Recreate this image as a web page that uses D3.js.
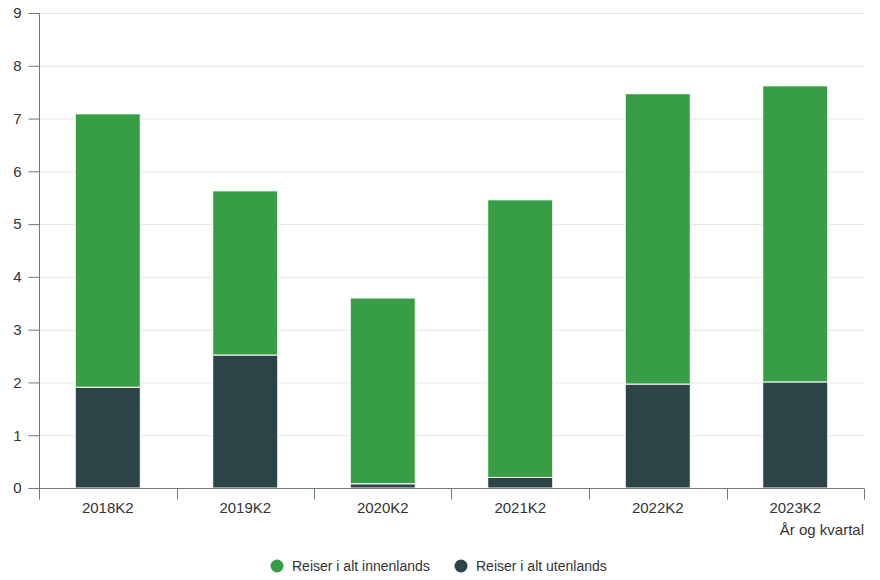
<!DOCTYPE html>
<html><head><meta charset="utf-8">
<script src="https://cdn.jsdelivr.net/npm/d3@7"></script>
<style>body{margin:0;background:#fff;font-family:"Liberation Sans",Arial,sans-serif;}</style>
</head><body>
<svg id="c" width="880" height="580"></svg>
<script>
const categories = ["2018K2","2019K2","2020K2","2021K2","2022K2","2023K2"];
const utenlands = [1.91, 2.52, 0.08, 0.20, 1.97, 2.01];
const innenlands = [5.18, 3.11, 3.52, 5.26, 5.50, 5.61];
const yTicks = [0,1,2,3,4,5,6,7,8,9];
const seriesNames = ["Reiser i alt innenlands","Reiser i alt utenlands"];
const colors = {inn:"#389e45", ut:"#2c4348"};

const svg = d3.select("#c");
const L=39, R=864, T=13, B=488;
const x = d3.scaleBand().domain(categories).range([L,R]).paddingInner(0.527).paddingOuter(0.2635);
const y = d3.scaleLinear().domain([0,9]).range([B,T]);

// gridlines
svg.append("g").selectAll("line").data(yTicks).join("line")
  .attr("x1",L).attr("x2",R).attr("y1",d=>y(d)+0.5).attr("y2",d=>y(d)+0.5)
  .attr("stroke","#e6e6e6").attr("stroke-width",1);

const data = categories.map((c,i)=>({c, ut:utenlands[i], inn:innenlands[i]}));
const stack = d3.stack().keys(["ut","inn"])(data);
svg.append("g").selectAll("g").data(stack).join("g")
  .attr("fill",d=>colors[d.key])
  .selectAll("rect").data(d=>d).join("rect")
  .attr("x",d=>x(d.data.c)).attr("width",x.bandwidth())
  .attr("y",d=>y(d[1])).attr("height",d=>y(d[0])-y(d[1]))
  .attr("stroke","#ffffff").attr("stroke-width",1);

// y axis
const ya = svg.append("g").attr("transform",`translate(${L+0.5},0)`)
  .call(d3.axisLeft(y).tickValues(yTicks).tickSize(11).tickPadding(7).tickFormat(d3.format("d")));
ya.select(".domain").attr("stroke","#6e7b7b").attr("d",`M0,${T}V${B}`);
ya.selectAll(".tick line").attr("stroke","#6e7b7b");
ya.selectAll("text").attr("fill","#333").style("font-size","15px").style("font-family","Liberation Sans, Arial, sans-serif");

// x axis
const xa = svg.append("g").attr("transform",`translate(0,${B+0.5})`);
xa.append("line").attr("x1",L).attr("x2",R).attr("stroke","#6e7b7b");
const bounds = [L].concat(categories.map(c=>x(c)+x.bandwidth()+x.step()*x.paddingInner()/2));
bounds[bounds.length-1]=R;
xa.selectAll("line.t").data(bounds).join("line").attr("class","t")
  .attr("x1",d=>Math.round(d)+0.5).attr("x2",d=>Math.round(d)+0.5).attr("y1",0).attr("y2",11)
  .attr("stroke","#6e7b7b");
xa.selectAll("text").data(categories).join("text")
  .attr("x",d=>x(d)+x.bandwidth()/2).attr("y",24)
  .attr("text-anchor","middle").attr("fill","#333").style("font-size","15px")
  .text(d=>d);
svg.append("text").attr("x",R).attr("y",535).attr("text-anchor","end")
  .attr("fill","#333").style("font-size","15px").text("År og kvartal");

// legend
const leg = svg.append("g");
const items = [{n:seriesNames[0],c:colors.inn,x:277},{n:seriesNames[1],c:colors.ut,x:461}];
items.forEach(it=>{
  leg.append("circle").attr("cx",it.x).attr("cy",566).attr("r",6.5).attr("fill",it.c);
  leg.append("text").attr("x",it.x+15).attr("y",571).attr("fill","#333").style("font-size","14px").text(it.n);
});
</script>
</body></html>
